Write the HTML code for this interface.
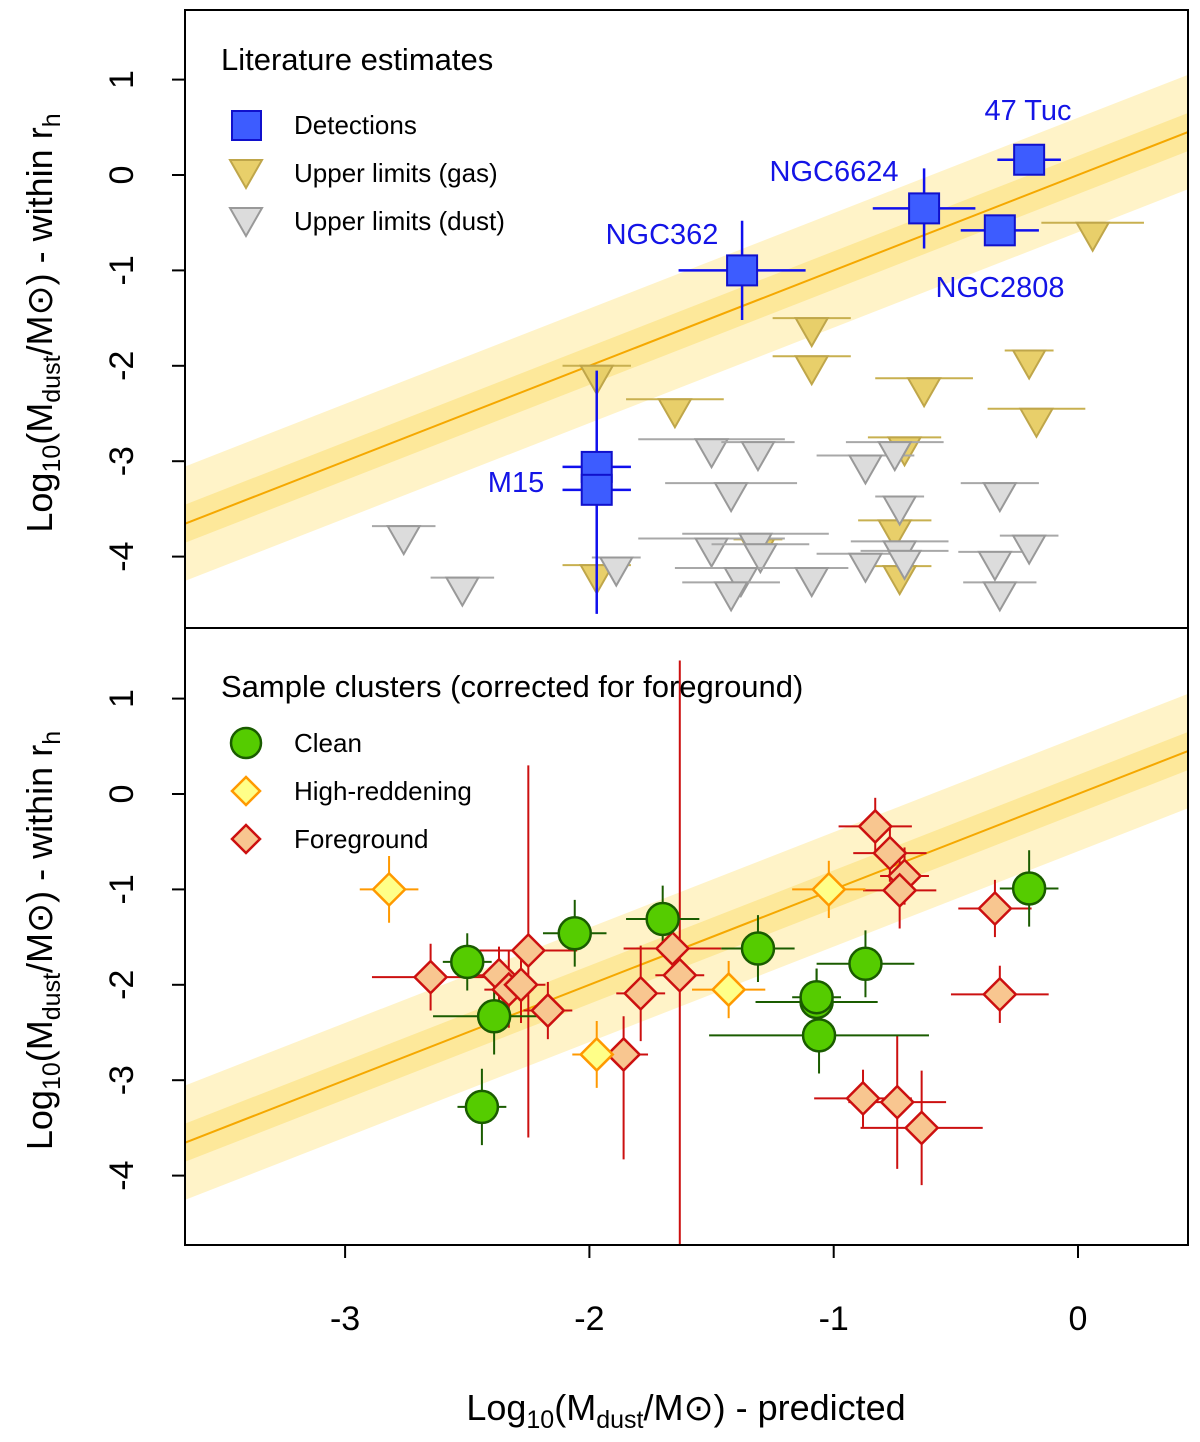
<!DOCTYPE html>
<html><head><meta charset="utf-8"><style>
html,body{margin:0;padding:0;background:#fff}
svg{display:block;font-family:"Liberation Sans",Arial,sans-serif}
</style></head><body>
<svg id="chart" width="1200" height="1442" viewBox="0 0 1200 1442" xmlns="http://www.w3.org/2000/svg"></svg>
<script>
// ---- data ----
const xTicks=[-3,-2,-1,0];
const yTicks=[1,0,-1,-2,-3,-4];
const detNames=["47 Tuc","NGC6624","NGC2808","NGC362","M15","M15b"];
const detX=[-0.20,-0.63,-0.32,-1.375,-1.97,-1.97];
const detY=[0.16,-0.35,-0.58,-1.0,-3.06,-3.30];
const detXe=[0.13,0.21,0.16,0.26,0.14,0.14];
const detYe=[0.05,0.42,0.05,0.52,0,0];
const gasX=[0.06,-1.09,-1.09,-0.2,-0.63,-0.17,-1.97,-1.65,-0.71,-0.75,-1.31,-1.97,-0.73];
const gasY=[-0.5,-1.5,-1.9,-1.84,-2.13,-2.45,-2.0,-2.35,-2.75,-3.62,-3.82,-4.09,-4.1];
const gasXe=[0.21,0.16,0.16,0.1,0.2,0.2,0.14,0.2,0.15,0.15,0.1,0.14,0.13];
const dustX=[-2.76,-2.52,-1.89,-1.5,-1.31,-1.42,-1.5,-1.32,-1.3,-1.38,-1.42,-1.09,-0.87,-0.75,-0.73,-0.87,-0.73,-0.71,-0.34,-0.2,-0.32,-0.32];
const dustY=[-3.68,-4.22,-4.01,-2.77,-2.8,-3.23,-3.81,-3.76,-3.87,-4.12,-4.27,-4.12,-2.94,-2.8,-3.37,-3.97,-3.84,-3.94,-3.95,-3.78,-4.27,-3.23];
const dustXe=[0.13,0.13,0.1,0.3,0.15,0.27,0.3,0.3,0.2,0.27,0.2,0.15,0.2,0.2,0.1,0.2,0.2,0.18,0.15,0.12,0.15,0.16];
const cleanX=[-0.2,-1.70,-2.06,-1.31,-2.5,-0.87,-1.07,-1.07,-1.06,-2.39,-2.44];
const cleanY=[-0.99,-1.31,-1.46,-1.62,-1.76,-1.78,-2.18,-2.13,-2.53,-2.33,-3.28];
const cleanXe=[0.12,0.15,0.13,0.15,0.1,0.2,0.25,0.1,0.45,0.25,0.1];
const cleanYe=[0.4,0.35,0.35,0.35,0.3,0.35,0.35,0.3,0.4,0.4,0.4];
const redX=[-2.82,-1.02,-1.43,-1.97];
const redY=[-1.0,-1.0,-2.05,-2.73];
const redXe=[0.12,0.15,0.15,0.1];
const redYe=[0.35,0.3,0.3,0.35];
const fgX=[-0.83,-0.77,-0.71,-0.73,-0.34,-0.32,-2.65,-2.37,-2.25,-2.33,-2.28,-2.17,-1.79,-1.66,-1.63,-1.86,-0.88,-0.74,-0.64];
const fgY=[-0.34,-0.62,-0.86,-1.01,-1.2,-2.1,-1.92,-1.9,-1.64,-2.05,-2.0,-2.27,-2.09,-1.62,-1.9,-2.73,-3.19,-3.23,-3.5];
const fgXe=[0.15,0.15,0.1,0.15,0.15,0.2,0.24,0.1,0.2,0.1,0.1,0.1,0.1,0.2,0.1,0.1,0.2,0.2,0.25];
const fgYlo=[0.3,0.3,0.3,0.4,0.3,0.3,0.35,0.3,1.96,0.4,0.4,0.3,0.5,0.3,4.0,1.1,0.3,0.7,0.6];
const fgYhi=[0.3,0.3,0.3,0.4,0.3,0.3,0.35,0.3,1.94,0.4,0.4,0.3,0.5,0.3,3.3,0.4,0.3,0.7,0.6];
// ---- scales ----
const XMIN=-3.655,XMAX=0.45;
const sx=v=>1078+v*244.3;
const panels=[{top:10,bot:628,y0:175},{top:628,bot:1245,y0:794}];
const S=95.4;
const svg=document.getElementById('chart');
const NS='http://www.w3.org/2000/svg';
function mk(tag,at,parent){const e=document.createElementNS(NS,tag);for(const k in at)e.setAttribute(k,at[k]);(parent||svg).appendChild(e);return e;}
function txt(s,at,parent){const e=mk('text',at,parent);e.textContent=s;return e;}
mk('defs',{}).innerHTML='<clipPath id="c0"><rect x="185" y="10" width="1003" height="618"/></clipPath><clipPath id="c1"><rect x="185" y="628" width="1003" height="617"/></clipPath>';
panels.forEach((p,i)=>{
  const sy=v=>p.y0-v*S;
  const g=mk('g',{'clip-path':'url(#c'+i+')'});
  
  
  const band=(w,c,n)=>{const e=mk('polygon',{points:`${sx(XMIN)},${sy(XMIN+w)} ${sx(XMAX)},${sy(XMAX+w)} ${sx(XMAX)},${sy(XMAX-w)} ${sx(XMIN)},${sy(XMIN-w)}`,fill:c},g);
    };
  band(0.6,'#fff3c8','outer-band');band(0.2,'#fde89a','inner-band');
  const ln=mk('line',{x1:sx(XMIN),y1:sy(XMIN),x2:sx(XMAX),y2:sy(XMAX),stroke:'#f5a800','stroke-width':2},g);
  
  p.sy=sy;p.g=g;
  yTicks.forEach(t=>{
    mk('line',{x1:172,x2:185,y1:sy(t),y2:sy(t),stroke:'#000','stroke-width':2});
    const e=txt(String(t),{x:0,y:0,'font-size':34,'text-anchor':'middle',transform:`translate(133,${sy(t)}) rotate(-90)`});
    
  });
  const yt=txt('',{x:0,y:0,'font-size':36,'text-anchor':'middle',transform:`translate(52,${(p.top+p.bot)/2+4}) rotate(-90)`});
  yt.innerHTML='Log<tspan font-size="25" dy="8">10</tspan><tspan dy="-8">(M</tspan><tspan font-size="25" dy="8">dust</tspan><tspan dy="-8">/M⊙) - within r</tspan><tspan font-size="25" dy="8">h</tspan>';
  
});
function errb(g,x,y,xe,ylo,yhi,col,w){const sy=g.sy;
  if(xe>0)mk('line',{x1:sx(x-xe),x2:sx(x+xe),y1:sy(y),y2:sy(y),stroke:col,'stroke-width':w||2},g.g);
  if(ylo>0||yhi>0)mk('line',{x1:sx(x),x2:sx(x),y1:sy(y-ylo),y2:sy(y+yhi),stroke:col,'stroke-width':w||2},g.g);}
const P0=panels[0],P1=panels[1];
function tri(g,x,y,fill,st,name){const X=sx(x),Y=g.sy(y);
  const e=mk('polygon',{points:`${X-16},${Y} ${X+16},${Y} ${X},${Y+28}`,fill,stroke:st,'stroke-width':2},g.g);
  }
gasX.forEach((x,i)=>{errb(P0,x,gasY[i],gasXe[i],0,0,'#c8b050');tri(P0,x,gasY[i],'#e8cf6a','#bfa64a','gas-upper-limit');});
dustX.forEach((x,i)=>{errb(P0,x,dustY[i],dustXe[i],0,0,'#a8a8a8');tri(P0,x,dustY[i],'#dcdcdc','#999','dust-upper-limit');});
mk('line',{x1:sx(-1.97),x2:sx(-1.97),y1:P0.sy(-2.05),y2:P0.sy(-4.6),stroke:'#1010ee','stroke-width':2.5},P0.g);
detX.forEach((x,i)=>{errb(P0,x,detY[i],detXe[i],detYe[i],detYe[i],'#1010ee',2.5);
  const e=mk('rect',{x:sx(x)-15,y:P0.sy(detY[i])-15,width:30,height:30,fill:'#3d5cff',stroke:'#1010cc','stroke-width':2},P0.g);
  });
[["47 Tuc",1028,120],["NGC6624",834,181],["NGC362",662,244],["NGC2808",1000,297],["M15",516,492]].forEach(a=>{
  const e=txt(a[0],{x:a[1],y:a[2],'font-size':29,fill:'#1414e6','text-anchor':'middle'});
  });
function dia(g,x,y,fill,st,name){const X=sx(x),Y=g.sy(y);
  const e=mk('polygon',{points:`${X},${Y-16} ${X+16},${Y} ${X},${Y+16} ${X-16},${Y}`,fill,stroke:st,'stroke-width':2.5},g.g);
  }
fgX.forEach((x,i)=>errb(P1,x,fgY[i],fgXe[i],fgYlo[i],fgYhi[i],'#cc1010'));
cleanX.forEach((x,i)=>errb(P1,x,cleanY[i],cleanXe[i],cleanYe[i],cleanYe[i],'#1a5c00'));
redX.forEach((x,i)=>errb(P1,x,redY[i],redXe[i],redYe[i],redYe[i],'#ff9900'));
fgX.forEach((x,i)=>dia(P1,x,fgY[i],'#f8c690','#cc1010','foreground-point'));
cleanX.forEach((x,i)=>{const e=mk('circle',{cx:sx(x),cy:P1.sy(cleanY[i]),r:16,fill:'#55cc00',stroke:'#1a5c00','stroke-width':2.5},P1.g);
  });
redX.forEach((x,i)=>dia(P1,x,redY[i],'#ffff88','#ff9900','high-reddening-point'));
[[10,628],[628,1245]].forEach(a=>{const e=mk('rect',{x:185,y:a[0],width:1003,height:a[1]-a[0],fill:'none',stroke:'#000','stroke-width':2});
  });
xTicks.forEach(t=>{mk('line',{x1:sx(t),x2:sx(t),y1:1245,y2:1258,stroke:'#000','stroke-width':2});
  const e=txt(String(t),{x:sx(t),y:1330,'font-size':34,'text-anchor':'middle'});
  });
const xt=txt('',{x:686,y:1420,'font-size':36,'text-anchor':'middle'});
xt.innerHTML='Log<tspan font-size="25" dy="8">10</tspan><tspan dy="-8">(M</tspan><tspan font-size="25" dy="8">dust</tspan><tspan dy="-8">/M⊙) - predicted</tspan>';

function legTitle(s,y,n){const e=txt(s,{x:221,y,'font-size':31});}
legTitle('Literature estimates',70,'legend-title-literature');
legTitle('Sample clusters (corrected for foreground)',697,'legend-title-sample');
function legText(s,y){const e=txt(s,{x:294,y:y+9,'font-size':26});}
mk('rect',{x:232,y:111,width:29,height:29,fill:'#3d5cff',stroke:'#1010cc','stroke-width':2});legText('Detections',125);
mk('polygon',{points:'230,160 262,160 246,188',fill:'#e8cf6a',stroke:'#bfa64a','stroke-width':2});legText('Upper limits (gas)',173);
mk('polygon',{points:'230,208 262,208 246,236',fill:'#dcdcdc',stroke:'#999','stroke-width':2});legText('Upper limits (dust)',221);
mk('circle',{cx:246,cy:743,r:15,fill:'#55cc00',stroke:'#1a5c00','stroke-width':2.5});legText('Clean',743);
mk('polygon',{points:'246,777 260,791 246,805 232,791',fill:'#ffff88',stroke:'#ff9900','stroke-width':2.5});legText('High-reddening',791);
mk('polygon',{points:'246,825 260,839 246,853 232,839',fill:'#f8c690',stroke:'#cc1010','stroke-width':2.5});legText('Foreground',839);
</script>
</body></html>
